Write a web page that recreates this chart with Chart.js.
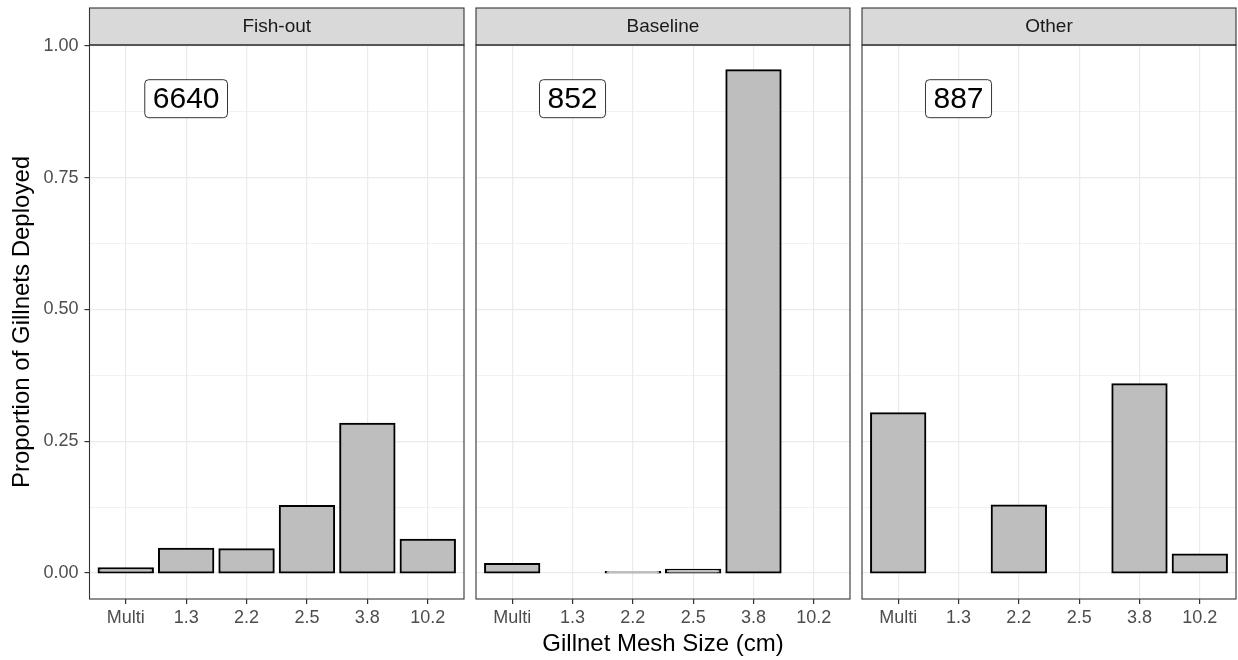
<!DOCTYPE html>
<html>
<head>
<meta charset="utf-8">
<script src="https://cdn.jsdelivr.net/npm/chart.js@4.4.0/dist/chart.umd.min.js"></script>
<style>
  html, body { margin: 0; padding: 0; background: #fff; }
  body { width: 1238px; height: 660px; position: relative; overflow: hidden; }
  canvas { position: absolute; top: 0; }
</style>
</head>
<body>
<canvas id="fishout" style="left:0px" width="470" height="660"></canvas>
<canvas id="baseline" style="left:470px" width="386" height="660"></canvas>
<canvas id="other" style="left:856px" width="382" height="660"></canvas>
<script>
const meshSizes = ['Multi', '1.3', '2.2', '2.5', '3.8', '10.2'];
const facets = ['Fish-out', 'Baseline', 'Other'];
const fishOut = [0.009, 0.046, 0.045, 0.127, 0.283, 0.063];
const baseline = [0.017, 0, 0.002, 0.006, 0.954, 0];
const other = [0.303, 0, 0.128, 0, 0.358, 0.035];
const netCounts = [6640, 852, 887];
const yTicks = [0, 0.125, 0.25, 0.375, 0.5, 0.625, 0.75, 0.875, 1];
// count labels sit over the 1.3 cm column, at 0.9
const countMesh = '1.3';
const countY = 0.9;

const FONT = "'Liberation Sans', Arial, sans-serif";
Chart.defaults.font.family = FONT;
Chart.defaults.color = '#4D4D4D';

const isMajor = v => Math.abs(v * 4 - Math.round(v * 4)) < 1e-9;

// grey strip on top, panel border and the boxed count label
const facetPlugin = {
  id: 'facet',
  afterDraw(chart, args, opts) {
    const { ctx, chartArea: a, scales } = chart;
    ctx.save();
    ctx.fillStyle = '#D9D9D9';
    ctx.strokeStyle = '#333333';
    ctx.lineWidth = 1.1;
    ctx.fillRect(a.left, a.top - 37, a.right - a.left, 37);
    ctx.strokeRect(a.left, a.top - 37, a.right - a.left, 37);
    ctx.fillStyle = '#1A1A1A';
    ctx.font = '19px ' + FONT;
    ctx.textAlign = 'center';
    ctx.textBaseline = 'middle';
    ctx.fillText(opts.strip, (a.left + a.right) / 2, a.top - 18);
    ctx.strokeRect(a.left, a.top, a.right - a.left, a.bottom - a.top);

    const x = scales.x.getPixelForValue(meshSizes.indexOf(countMesh));
    const y = scales.y.getPixelForValue(countY);
    ctx.font = '30px ' + FONT;
    const text = String(opts.count);
    const w = ctx.measureText(text).width + 16;
    const h = 38;
    ctx.beginPath();
    ctx.roundRect(x - w / 2, y - h / 2, w, h, 4);
    ctx.fillStyle = '#FFFFFF';
    ctx.fill();
    ctx.strokeStyle = '#000000';
    ctx.lineWidth = 0.8;
    ctx.stroke();
    ctx.fillStyle = '#000000';
    ctx.fillText(text, x, y + 1);
    ctx.restore();
  }
};

function makePanel(id, name, values, count, first, middle) {
  new Chart(document.getElementById(id), {
    type: 'bar',
    data: {
      datasets: [{
        data: values.map((v, i) => ({ x: i, y: v })),
        backgroundColor: '#BEBEBE',
        borderColor: '#000000',
        borderWidth: 2,
        borderSkipped: false,
        inflateAmount: 1,
        barPercentage: 0.9,
        categoryPercentage: 1
      }]
    },
    options: {
      responsive: false,
      animation: false,
      devicePixelRatio: 1,
      layout: { padding: { top: 45, bottom: 0, left: first ? 0 : 6, right: id === 'other' ? 2 : 6 } },
      plugins: {
        legend: { display: false },
        tooltip: { enabled: false },
        facet: { strip: name, count: count }
      },
      scales: {
        x: {
          type: 'linear',
          offset: false,
          min: -0.6,
          max: 5.6,
          afterBuildTicks: axis => { axis.ticks = meshSizes.map((m, i) => ({ value: i })); },
          afterFit: axis => { axis.height = 61; },
          border: { display: false },
          grid: { offset: false, color: '#EBEBEB', lineWidth: 1.2, tickColor: '#333333', tickLength: 5 },
          ticks: {
            autoSkip: false,
            maxRotation: 0,
            padding: 3,
            color: '#4D4D4D',
            font: { size: 18 },
            callback: v => meshSizes[v]
          },
          title: {
            display: middle,
            text: 'Gillnet Mesh Size (cm)',
            color: '#000000',
            font: { size: 24 },
            padding: { top: 0, bottom: 1 }
          }
        },
        y: {
          min: -0.0493,
          max: 1.0019,
          afterBuildTicks: axis => { axis.ticks = yTicks.map(v => ({ value: v })); },
          afterFit: axis => { axis.width = first ? 89.5 : 0; },
          border: { display: false },
          grid: {
            color: '#EBEBEB',
            lineWidth: c => isMajor(c.tick.value) ? 1.2 : 0.7,
            tickColor: c => isMajor(c.tick.value) ? '#333333' : 'rgba(0,0,0,0)',
            tickLength: 5,
            drawTicks: first
          },
          ticks: {
            display: first,
            padding: 6,
            color: '#4D4D4D',
            font: { size: 18 },
            callback: v => isMajor(v) ? v.toFixed(2) : ''
          },
          title: {
            display: first,
            text: 'Proportion of Gillnets Deployed',
            color: '#000000',
            font: { size: 24 },
            padding: { top: 8 }
          }
        }
      }
    },
    plugins: [facetPlugin]
  });
}

makePanel('fishout', facets[0], fishOut, netCounts[0], true, false);
makePanel('baseline', facets[1], baseline, netCounts[1], false, true);
makePanel('other', facets[2], other, netCounts[2], false, false);
</script>
</body>
</html>
